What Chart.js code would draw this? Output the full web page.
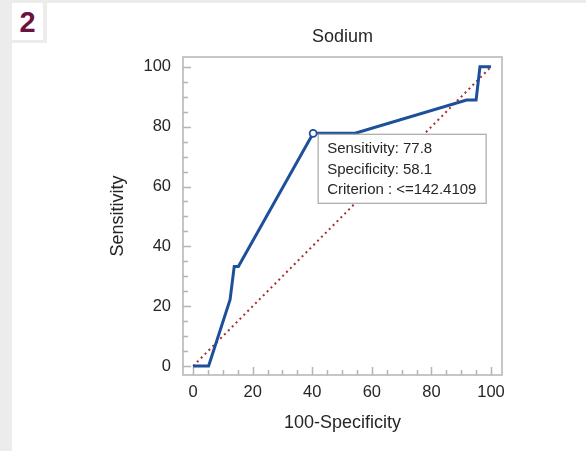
<!DOCTYPE html>
<html>
<head>
<meta charset="utf-8">
<script src="https://cdn.jsdelivr.net/npm/chart.js@4.4.1/dist/chart.umd.min.js"></script>
<style>
  body { margin: 0; background: #ececec; }
  #panel { position: absolute; left: 12px; top: 3px; right: 0; bottom: 0; background: #fff; }
  #badge { position: absolute; left: 12px; top: 3px; width: 31px; height: 37px; background: #fff;
    border-right: 4px solid #ececec; border-bottom: 3px solid #ececec; z-index: 2;
    font: bold 29px "Liberation Sans", Arial, sans-serif; color: #6d1140; text-align: center; line-height: 39px; }
  #myChart { position: absolute; left: 0; top: 0; z-index: 1; }
</style>
</head>
<body>
<div id="panel"></div>
<div id="badge">2</div>
<canvas id="myChart" width="586" height="451"></canvas>
<script>
// ROC points
var fpr = [0, 5.2, 12.4, 13.8, 15.2, 40.3, 54.4, 91.8, 95, 96.3, 100];
var sens = [0, 0, 22.2, 33.3, 33.3, 77.8, 77.8, 88.9, 88.9, 100, 100];
var diagX = [0, 100];
var diagY = [0, 100];
var cutX = [40.3];
var cutY = [77.8];
var tickValues = [0, 20, 40, 60, 80, 100];
var infoLines = ['Sensitivity: 77.8', 'Specificity: 58.1', 'Criterion : <=142.4109'];
var chartTitle = 'Sodium';

function pts(xs, ys) {
	return xs.map(function (x, i) { return { x: x, y: ys[i] }; });
}

var fontName = '"Liberation Sans", Arial, sans-serif';
var textColor = '#262626';

var frame = {
	id: 'frame',
	beforeDatasetsDraw: function (chart) {
		var c = chart.ctx, a = chart.chartArea;
		var xs = chart.scales.x, ys = chart.scales.y;
		c.save();
		// title centred over the plot box
		c.fillStyle = textColor;
		c.font = '18px ' + fontName;
		c.textAlign = 'center';
		c.textBaseline = 'middle';
		c.fillText(chartTitle, (a.left + a.right) / 2, 37);

		c.strokeStyle = '#b4b4b4';
		c.lineWidth = 1.5;
		c.strokeRect(a.left, a.top, a.right - a.left, a.bottom - a.top);
		c.beginPath();
		for (var v = 0; v <= 100; v += 5) {
			var len = v % 20 === 0 ? 8 : 5;
			var px = Math.round(xs.getPixelForValue(v)) + 0.5;
			c.moveTo(px, a.bottom);
			c.lineTo(px, a.bottom - len);
			var py = Math.round(ys.getPixelForValue(v)) + 0.5;
			c.moveTo(a.left, py);
			c.lineTo(a.left + len, py);
		}
		c.stroke();
		c.restore();
	},
	afterDatasetsDraw: function (chart) {
		var c = chart.ctx;
		var px = chart.scales.x.getPixelForValue(cutX[0]);
		var py = chart.scales.y.getPixelForValue(cutY[0]);
		var bx = px + 5, by = py + 1;
		c.save();
		c.fillStyle = '#fff';
		c.strokeStyle = '#a8a8a8';
		c.lineWidth = 1.2;
		c.fillRect(bx, by, 168, 69);
		c.strokeRect(bx, by, 168, 69);
		c.fillStyle = textColor;
		c.font = '15px ' + fontName;
		c.textBaseline = 'middle';
		infoLines.forEach(function (t, i) {
			c.fillText(t, bx + 9, by + 15 + i * 20.5);
		});
		c.restore();
	}
};

var ctx = document.getElementById('myChart').getContext('2d');
var myChart = new Chart(ctx, {
	type: 'scatter',
	data: {
		datasets: [{
			data: pts(cutX, cutY),
			pointRadius: 3.5,
			pointBorderWidth: 1.8,
			pointBackgroundColor: '#fff',
			pointBorderColor: '#1d4f9a',
			showLine: false
		}, {
			data: pts(fpr, sens),
			showLine: true,
			borderColor: '#1d4f9a',
			borderWidth: 3,
			pointRadius: 0,
			tension: 0
		}, {
			data: pts(diagX, diagY),
			showLine: true,
			borderColor: '#a3302c',
			borderWidth: 2,
			borderDash: [2, 3.5],
			pointRadius: 0
		}]
	},
	plugins: [frame],
	options: {
		responsive: false,
		animation: false,
		layout: { padding: { left: 0, right: 84, top: 57, bottom: 0 } },
		plugins: {
			legend: { display: false },
			tooltip: { enabled: false },
			title: { display: false }
		},
		scales: {
			x: {
				type: 'linear',
				min: -3.4,
				max: 103.7,
				afterFit: function (s) { s.height = 76; },
				grid: { display: false },
				border: { display: false },
				ticks: {
					includeBounds: false,
					stepSize: 20,
					padding: 0,
					color: textColor,
					font: { family: fontName, size: 16.5 },
					callback: function (v) { return tickValues.indexOf(v) >= 0 ? v : ''; }
				},
				title: {
					display: true,
					text: '100-Specificity',
					color: textColor,
					font: { family: fontName, size: 18 },
					padding: { top: 0, bottom: 17 }
				}
			},
			y: {
				type: 'linear',
				min: -3,
				max: 103.3,
				afterFit: function (s) { s.width = 183; },
				grid: { display: false },
				border: { display: false },
				ticks: {
					includeBounds: false,
					stepSize: 20,
					padding: 4,
					color: textColor,
					font: { family: fontName, size: 16.5 },
					callback: function (v) { return tickValues.indexOf(v) >= 0 ? v : ''; }
				},
				title: {
					display: true,
					text: 'Sensitivity',
					color: textColor,
					font: { family: fontName, size: 18 },
					padding: { top: 107, bottom: 0 }
				}
			}
		}
	}
});
</script>
</body>
</html>
